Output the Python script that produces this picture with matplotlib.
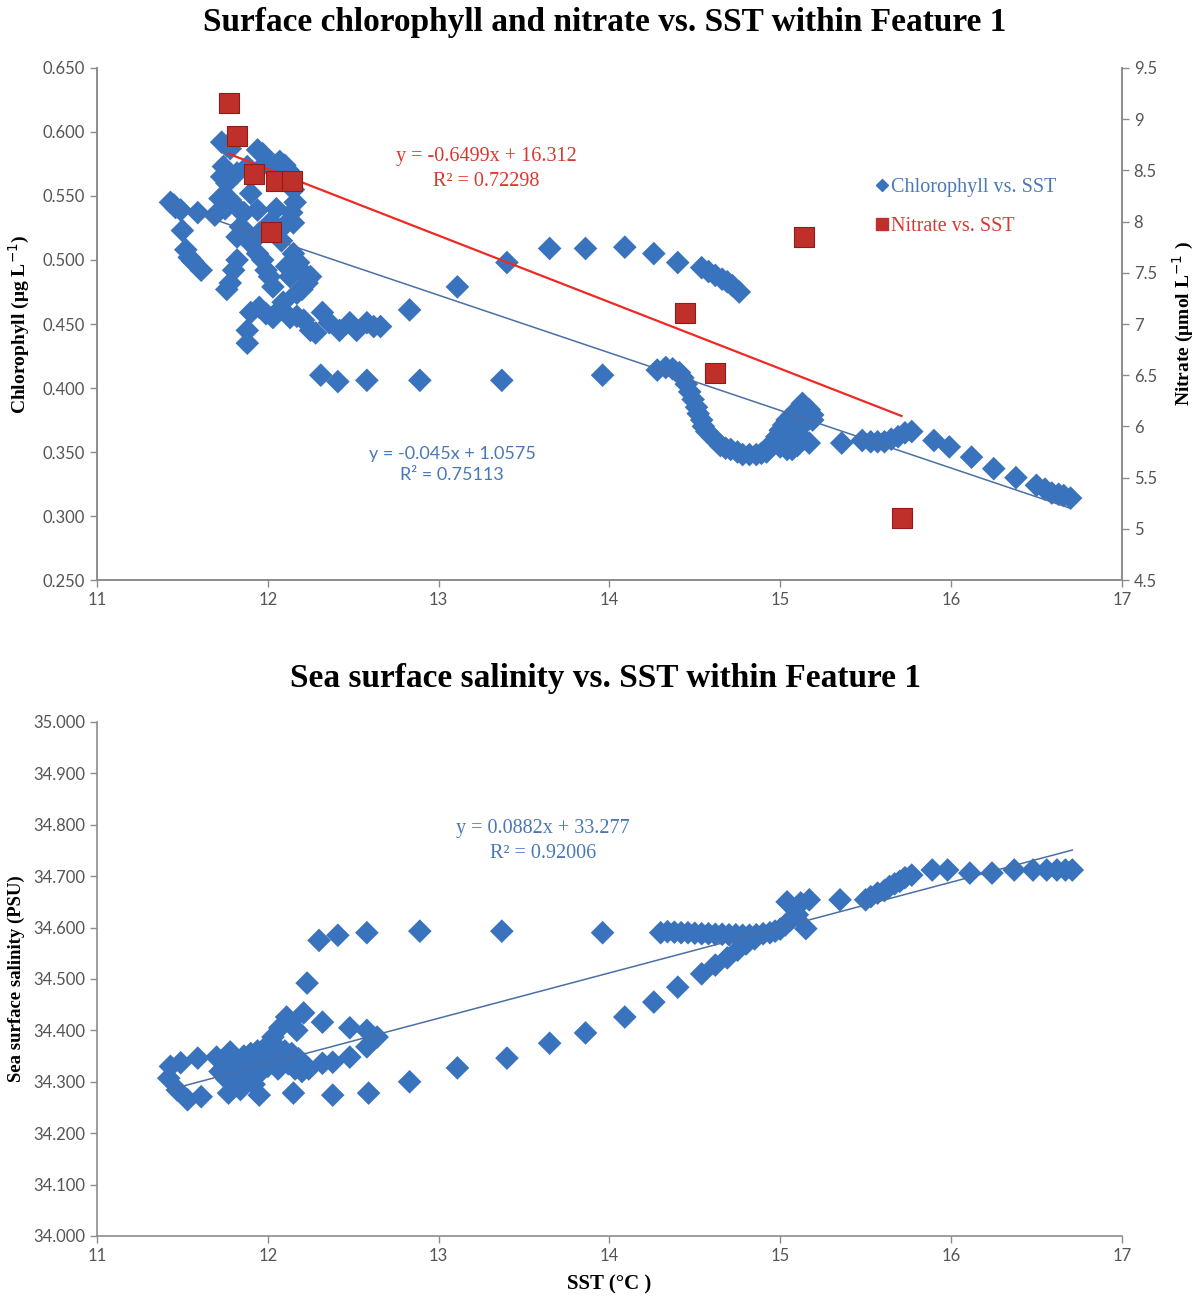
import numpy as np
import matplotlib
matplotlib.use("Agg")
import matplotlib.pyplot as plt
from matplotlib.lines import Line2D

# ---- data ----
# top panel: chlorophyll vs SST
sst_chl = [11.43, 11.46, 11.49, 11.45, 11.59, 11.50, 11.52, 11.54, 11.56, 11.61,
           11.69, 11.73, 11.76, 11.78, 11.94, 11.97, 12.07, 12.10, 12.12, 11.74,
           11.73, 11.76, 11.82, 11.88, 11.99, 12.04, 12.15, 12.16, 12.14, 12.15,
           12.09, 12.13, 11.78, 11.82, 11.86, 11.90, 11.94, 11.84, 11.82, 11.88,
           11.95, 11.90, 11.94, 11.97, 11.99, 12.01, 12.03, 11.82, 11.80, 11.78,
           11.76, 11.72, 11.75, 12.02, 12.05, 12.08, 12.15, 12.18, 12.21, 12.23,
           12.20, 12.17, 12.13, 12.25, 12.11,
           11.88, 11.88, 11.90, 11.95, 11.99, 12.03, 12.06, 12.09, 12.13, 12.17,
           12.21, 12.25, 12.28, 12.32, 12.36, 12.42, 12.48, 12.52, 12.58, 12.62,
           12.66, 12.31, 12.41, 12.58, 12.89, 13.37, 13.96,
           12.83, 13.11, 13.40, 13.65, 13.86, 14.09, 14.26, 14.40, 14.54, 14.58,
           14.62, 14.66, 14.69, 14.72, 14.76,
           14.28, 14.33, 14.37, 14.41, 14.43, 14.45, 14.47, 14.49, 14.51, 14.52,
           14.54, 14.55, 14.57, 14.60, 14.63, 14.65, 14.68, 14.71, 14.75, 14.78,
           14.82, 14.86, 14.89, 14.92, 14.94, 14.96, 14.98, 15.00, 15.02, 15.04,
           15.07, 15.10, 15.13, 15.15, 15.17, 15.19, 15.19, 15.07, 15.03, 15.00,
           15.04, 15.07, 15.10, 15.12, 15.17, 15.14,
           15.36, 15.48, 15.53, 15.57, 15.61, 15.65, 15.69, 15.73, 15.77, 15.90,
           15.99, 16.12, 16.25, 16.38, 16.50, 16.55, 16.59, 16.63, 16.66, 16.70]
chl = [0.545, 0.541, 0.539, 0.543, 0.537, 0.523, 0.508, 0.502, 0.499, 0.492,
       0.535, 0.592, 0.589, 0.587, 0.586, 0.583, 0.577, 0.574, 0.570, 0.573,
       0.565, 0.560, 0.568, 0.573, 0.576, 0.574, 0.555, 0.545, 0.537, 0.529,
       0.526, 0.563, 0.547, 0.541, 0.537, 0.552, 0.539, 0.526, 0.518, 0.521,
       0.521, 0.513, 0.505, 0.500, 0.492, 0.487, 0.479, 0.500, 0.492, 0.482,
       0.477, 0.548, 0.540, 0.530, 0.540, 0.515, 0.505, 0.498, 0.490, 0.482,
       0.477, 0.474, 0.487, 0.487, 0.495,
       0.435, 0.445, 0.459, 0.463, 0.458, 0.455, 0.460, 0.467, 0.455, 0.456,
       0.453, 0.445, 0.443, 0.459, 0.451, 0.445, 0.451, 0.445, 0.451, 0.448,
       0.448, 0.410, 0.405, 0.406, 0.406, 0.406, 0.410,
       0.461, 0.479, 0.498, 0.509, 0.509, 0.510, 0.505, 0.498, 0.494, 0.491,
       0.488, 0.485, 0.483, 0.480, 0.475,
       0.414, 0.416, 0.415, 0.412, 0.408, 0.403, 0.397, 0.391, 0.385, 0.380,
       0.375, 0.370, 0.366, 0.362, 0.358, 0.355, 0.353, 0.352, 0.350, 0.348,
       0.348, 0.348, 0.349, 0.350, 0.354, 0.358, 0.362, 0.367, 0.371, 0.375,
       0.379, 0.383, 0.388, 0.385, 0.383, 0.379, 0.375, 0.370, 0.360, 0.354,
       0.352, 0.352, 0.355, 0.362, 0.357, 0.372,
       0.357, 0.359, 0.358, 0.358, 0.358, 0.360, 0.362, 0.365, 0.366, 0.359,
       0.354, 0.346, 0.337, 0.330, 0.324, 0.321, 0.318, 0.317, 0.316, 0.314]

# top panel: nitrate vs SST (right axis)
sst_no3 = [11.77, 11.82, 11.92, 12.05, 12.14, 12.02, 15.14, 14.44, 14.62, 15.71]
no3 = [9.16, 8.84, 8.46, 8.40, 8.40, 7.90, 7.85, 7.11, 6.52, 5.11]

# bottom panel: salinity vs SST
sst_sal = [11.42, 11.43, 11.49, 11.59, 11.70, 11.78, 11.47, 11.53, 11.61, 11.77,
           11.95, 12.15, 12.38, 12.59, 12.83,
           11.72, 11.76, 11.80, 11.84, 11.88, 11.92, 11.96, 12.00, 11.78, 11.82,
           11.86, 11.90, 11.94, 11.98, 12.02, 12.06, 12.10, 12.14, 12.18, 12.21,
           12.24, 12.04, 12.08, 12.12, 12.16, 12.20, 11.88, 11.96, 12.00, 11.92,
           11.84, 12.06,
           12.11, 12.21, 12.07, 12.17, 12.32, 12.48, 12.58, 12.64, 12.58, 12.48,
           12.38, 12.32, 12.23, 12.03, 12.13,
           12.30, 12.41, 12.58, 12.89, 13.37, 13.96,
           14.30, 14.34, 14.38, 14.42, 14.46, 14.50, 14.54, 14.58, 14.62, 14.66,
           14.70, 14.74, 14.78, 14.82, 14.86, 14.90, 14.94, 14.97, 15.00, 15.03,
           15.06, 15.04, 15.12, 15.17, 15.15, 15.10,
           13.11, 13.40, 13.65, 13.86, 14.09, 14.26, 14.40, 14.54, 14.62, 14.69,
           14.75, 14.80, 14.85,
           15.35, 15.50, 15.53, 15.57, 15.61, 15.64, 15.67, 15.70, 15.73, 15.77,
           15.89, 15.98, 16.11, 16.24, 16.37, 16.48, 16.56, 16.62, 16.67, 16.71]
sal = [34.307, 34.330, 34.337, 34.346, 34.348, 34.358, 34.284, 34.265, 34.271, 34.278,
       34.274, 34.278, 34.274, 34.278, 34.300,
       34.320, 34.305, 34.300, 34.310, 34.300, 34.310, 34.320, 34.330, 34.330, 34.340,
       34.350, 34.355, 34.360, 34.365, 34.368, 34.365, 34.360, 34.355, 34.345, 34.335,
       34.325, 34.345, 34.340, 34.335, 34.325, 34.320, 34.330, 34.340, 34.350, 34.295,
       34.285, 34.325,
       34.426, 34.434, 34.405, 34.400, 34.416, 34.405, 34.400, 34.387, 34.368, 34.348,
       34.338, 34.336, 34.492, 34.387, 34.416,
       34.575, 34.585, 34.590, 34.593, 34.593, 34.590,
       34.590, 34.592, 34.591, 34.590, 34.590, 34.589, 34.588, 34.588, 34.587, 34.587,
       34.586, 34.586, 34.585, 34.585, 34.586, 34.588, 34.590, 34.593, 34.597, 34.605,
       34.615, 34.650, 34.648, 34.654, 34.598, 34.625,
       34.327, 34.346, 34.375, 34.395, 34.426, 34.455, 34.484, 34.510, 34.527, 34.541,
       34.556, 34.568, 34.578,
       34.654, 34.654, 34.660, 34.667, 34.672, 34.680, 34.685, 34.690, 34.697, 34.702,
       34.712, 34.712, 34.706, 34.706, 34.712, 34.712, 34.712, 34.712, 34.712, 34.712]

# linear fits as printed on the chart (slope, intercept)
fit_chl = (-0.045, 1.0575)
fit_no3 = (-0.6499, 16.312)
fit_sal = (0.0882, 33.277)

BLUE = "#3a73bd"
BLUE_TXT = "#4a78b5"
RED = "#c0302a"
RED_TXT = "#d9382f"
GREY = "#8c8c8c"
TICK_TXT = "#555555"
SERIF = "Liberation Serif"
SANS = "Lato"


def style_axis(ax, spines=("left", "bottom")):
    for s in ["left", "right", "top", "bottom"]:
        ax.spines[s].set_visible(s in spines)
        ax.spines[s].set_color(GREY)
        ax.spines[s].set_linewidth(1.2)
    ax.tick_params(direction="out", length=5, width=1, color=GREY,
                   labelsize=12, labelcolor=TICK_TXT)
    for lab in ax.get_xticklabels() + ax.get_yticklabels():
        lab.set_fontfamily(SANS)


fig = plt.figure(figsize=(11.96, 13.02), dpi=100)

# ---------------- top panel ----------------
ax1 = fig.add_axes([0.0811, 0.5545, 0.8569, 0.3933])
ax1.scatter(sst_chl, chl, marker="D", s=145, color=BLUE, edgecolors="none", zorder=3)
xs = np.array([min(sst_chl), max(sst_chl)])
ax1.plot(xs, fit_chl[0] * xs + fit_chl[1], color="#4a6fa5", lw=1.1, zorder=4)
ax1.set_xlim(11, 17)
ax1.set_ylim(0.25, 0.65)
ax1.set_yticks(np.arange(0.25, 0.651, 0.05))
ax1.set_yticklabels([f"{v:.3f}" for v in np.arange(0.25, 0.651, 0.05)])
ax1.set_xticks(range(11, 18))
ax1.set_ylabel("Chlorophyll (μg L$^{-1}$)", family=SERIF, fontweight="bold",
               fontsize=14, labelpad=8)
style_axis(ax1, ("left", "bottom", "right"))

ax2 = ax1.twinx()
ax2.scatter(sst_no3, no3, marker="s", s=190, color=RED, edgecolors="#8e1d18",
            linewidths=0.8, zorder=5)
xn = np.array([min(sst_no3), max(sst_no3)])
ax2.plot(xn, fit_no3[0] * xn + fit_no3[1], color="#ee2a24", lw=1.6, zorder=4)
ax2.set_ylim(4.5, 9.5)
ax2.set_yticks(np.arange(4.5, 9.51, 0.5))
ax2.set_yticklabels([f"{v:g}" for v in np.arange(4.5, 9.51, 0.5)])
ax2.set_ylabel("Nitrate (μmol L$^{-1}$ )", family=SERIF, fontweight="bold",
               fontsize=14, labelpad=10)
style_axis(ax2, ("left", "bottom", "right"))

ax1.text(13.28, 0.571, "y = -0.6499x + 16.312\nR² = 0.72298", color=RED_TXT,
         family=SERIF, fontsize=14.5, ha="center", va="center", linespacing=1.4)
ax1.text(13.08, 0.340, "y = -0.045x + 1.0575\nR² = 0.75113", color=BLUE_TXT,
         family=SANS, fontsize=13, ha="center", va="center", linespacing=1.4)

handles = [Line2D([], [], marker="D", ls="none", color=BLUE, ms=6),
           Line2D([], [], marker="s", ls="none", color=RED, ms=8)]
fig.legend(handles, ["Chlorophyll vs. SST", "Nitrate vs. SST"],
           loc="upper left", bbox_to_anchor=(0.717, 0.8775), frameon=False,
           handlelength=0.6, handletextpad=0.15, labelspacing=1.0,
           prop={"family": SERIF, "size": 14.5}, labelcolor=[BLUE_TXT, RED_TXT])

fig.text(0.506, 0.983, "Surface chlorophyll and nitrate vs. SST within Feature 1",
         ha="center", va="center", family=SERIF, fontweight="bold", fontsize=24)

# ---------------- bottom panel ----------------
ax3 = fig.add_axes([0.0811, 0.0507, 0.8569, 0.3948])
ax3.scatter(sst_sal, sal, marker="D", s=145, color=BLUE, edgecolors="none", zorder=3)
xsal = np.array([min(sst_sal), max(sst_sal)])
ax3.plot(xsal, fit_sal[0] * xsal + fit_sal[1], color="#4a6fa5", lw=1.1, zorder=4)
ax3.set_xlim(11, 17)
ax3.set_ylim(34.0, 35.0)
ax3.set_yticks(np.arange(34.0, 35.001, 0.1))
ax3.set_yticklabels([f"{v:.3f}" for v in np.arange(34.0, 35.001, 0.1)])
ax3.set_xticks(range(11, 18))
ax3.set_ylabel("Sea surface salinity (PSU)", family=SERIF, fontweight="bold",
               fontsize=13.5, labelpad=6)
ax3.set_xlabel("SST (°C )", family=SERIF, fontweight="bold", fontsize=15, labelpad=8)
style_axis(ax3)

ax3.text(13.61, 34.768, "y = 0.0882x + 33.277\nR² = 0.92006", color=BLUE_TXT,
         family=SERIF, fontsize=14.5, ha="center", va="center", linespacing=1.4)

fig.text(0.506, 0.479, "Sea surface salinity vs. SST within Feature 1",
         ha="center", va="center", family=SERIF, fontweight="bold", fontsize=24)

fig.savefig("out.png", dpi=100, facecolor="white")
